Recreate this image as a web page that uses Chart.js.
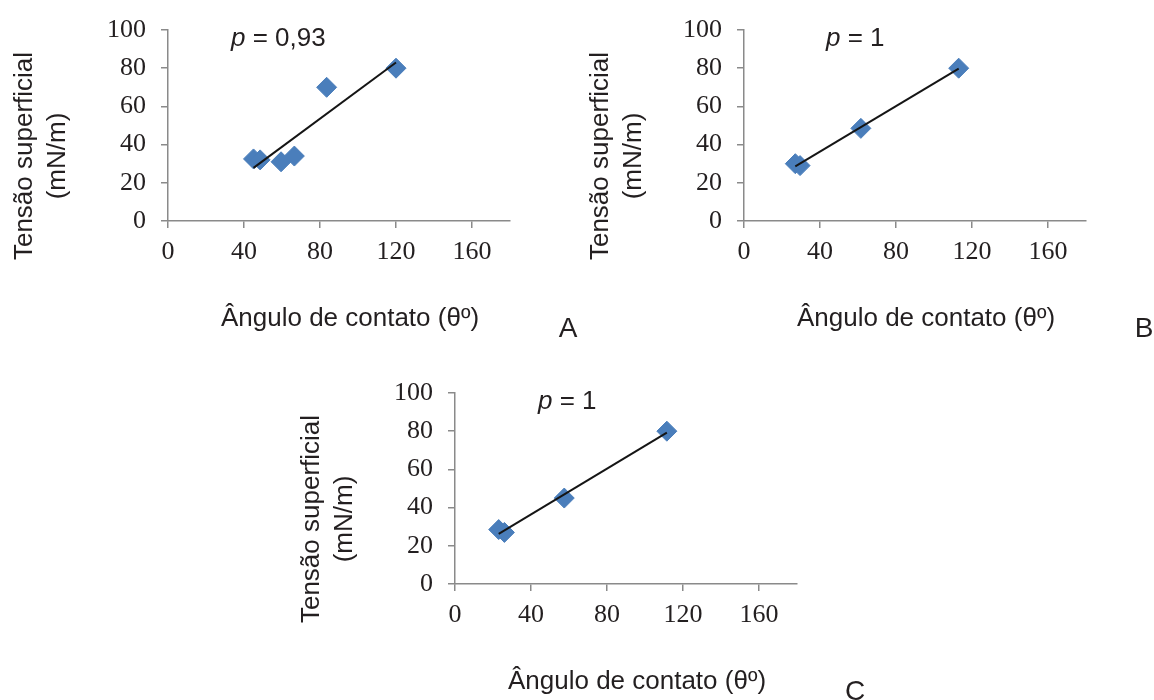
<!DOCTYPE html>
<html lang="pt">
<head>
<meta charset="utf-8">
<title>Tensão superficial x Ângulo de contato</title>
<script src="https://cdn.jsdelivr.net/npm/chart.js@4.4.1/dist/chart.umd.min.js"></script>
<style>
  html, body { margin: 0; padding: 0; background: #fff; }
  #page { position: relative; width: 1154px; height: 700px; overflow: hidden; }
  #page canvas { position: absolute; }
</style>
</head>
<body>
<div id="page">
  <canvas id="graficoA" width="580" height="350" style="left:0;top:0"></canvas>
  <canvas id="graficoB" width="580" height="350" style="left:576px;top:0"></canvas>
  <canvas id="graficoC" width="580" height="350" style="left:287px;top:363px"></canvas>
</div>
<script>
// ângulo de contato (graus) e tensão superficial (mN/m) de cada painel
const angulosA = [45, 48.5, 59.5, 66.5, 83.5, 120];
const tensoesA = [32.5, 32, 31, 34, 70, 80];

const angulosB = [27, 29.5, 61.5, 113];
const tensoesB = [30, 29, 48.5, 80];

const angulosC = [23, 26, 57.5, 111.5];
const tensoesC = [28.5, 27, 45, 80];

const coeficientes = ['0,93', '1', '1'];
const letras = ['A', 'B', 'C'];

const ticksX = [0, 40, 80, 120, 160];
const ticksY = [0, 20, 40, 60, 80, 100];

const AZUL = '#4a7ebb';
const TEXTO = '#231f20';
const CINZA = '#8a8a8a';
const SERIFA = '"Liberation Serif", "Times New Roman", serif';
const SANS = '"Liberation Sans", Arial, sans-serif';

// reta de tendência (mínimos quadrados) entre o menor e o maior ângulo
function tendencia(xs, ys) {
  const n = xs.length;
  const mx = xs.reduce((a, b) => a + b, 0) / n;
  const my = ys.reduce((a, b) => a + b, 0) / n;
  let sxy = 0, sxx = 0;
  xs.forEach((x, i) => {
    sxy += (x - mx) * (ys[i] - my);
    sxx += (x - mx) * (x - mx);
  });
  const b = sxy / sxx;
  const a = my - b * mx;
  const x0 = Math.min(...xs), x1 = Math.max(...xs);
  return [{ x: x0, y: a + b * x0 }, { x: x1, y: a + b * x1 }];
}

// títulos dos eixos, coeficiente e letra do painel
const textosPainel = {
  id: 'textosPainel',
  afterDraw(chart, args, opts) {
    const { ctx } = chart;
    const { left, top, bottom } = chart.chartArea;
    ctx.save();
    ctx.fillStyle = TEXTO;
    ctx.textBaseline = 'alphabetic';

    ctx.font = '26px ' + SANS;
    ctx.textAlign = 'center';
    ctx.save();
    ctx.translate(left - 136, top + 126);
    ctx.rotate(-Math.PI / 2);
    ctx.fillText('Tensão superficial', 0, 0);
    ctx.restore();
    ctx.save();
    ctx.translate(left - 103, top + 126);
    ctx.rotate(-Math.PI / 2);
    ctx.fillText('(mN/m)', 0, 0);
    ctx.restore();

    ctx.fillText('Ângulo de contato (θº)', left + 182, bottom + 105);

    ctx.font = '28px ' + SANS;
    ctx.fillText(opts.letra, left + 400, bottom + 116);

    ctx.textAlign = 'left';
    ctx.font = 'italic 26px ' + SANS;
    const px = left + opts.xCoef;
    ctx.fillText('p', px, top + 16);
    const w = ctx.measureText('p').width;
    ctx.font = '26px ' + SANS;
    ctx.fillText(' = ' + opts.coef, px + w, top + 16);
    ctx.restore();
  }
};

function eixo(min, max, passo, marcas, folga) {
  return {
    type: 'linear',
    min: min,
    max: max,
    afterBuildTicks: s => { s.ticks = marcas.map(v => ({ value: v })); },
    ticks: {
      stepSize: passo,
      includeBounds: false,
      autoSkip: false,
      maxRotation: 0,
      color: TEXTO,
      font: { family: SERIFA, size: 26 },
      padding: folga
    },
    grid: { drawOnChartArea: false, tickLength: 7, color: CINZA, lineWidth: 1.5 },
    border: { color: CINZA, width: 1.5 }
  };
}

function montarGrafico(id, angulos, tensoes, coef, letra, xCoef) {
  const x = eixo(0, 180, 40, ticksX, 9);
  x.afterFit = s => { s.height = 40; s.paddingLeft = 0; s.paddingRight = 0; };
  const y = eixo(0, 100, 20, ticksY, 15);
  y.afterFit = s => { s.width = 60; s.paddingTop = 0; s.paddingBottom = 0; };

  return new Chart(document.getElementById(id), {
    type: 'scatter',
    data: {
      datasets: [
        {
          data: tendencia(angulos, tensoes),
          showLine: true,
          borderColor: '#151515',
          borderWidth: 2,
          pointRadius: 0
        },
        {
          data: angulos.map((a, i) => ({ x: a, y: tensoes[i] })),
          pointStyle: 'rectRot',
          pointRadius: 10,
          backgroundColor: AZUL,
          borderColor: AZUL,
          borderWidth: 1
        }
      ]
    },
    options: {
      responsive: false,
      animation: false,
      layout: { padding: { left: 108, top: 30, right: 70, bottom: 89 } },
      scales: { x: x, y: y },
      plugins: {
        legend: { display: false },
        tooltip: { enabled: false },
        textosPainel: { coef: coef, letra: letra, xCoef: xCoef }
      }
    },
    plugins: [textosPainel]
  });
}

montarGrafico('graficoA', angulosA, tensoesA, coeficientes[0], letras[0], 63);
montarGrafico('graficoB', angulosB, tensoesB, coeficientes[1], letras[1], 82);
montarGrafico('graficoC', angulosC, tensoesC, coeficientes[2], letras[2], 83);
</script>
</body>
</html>
